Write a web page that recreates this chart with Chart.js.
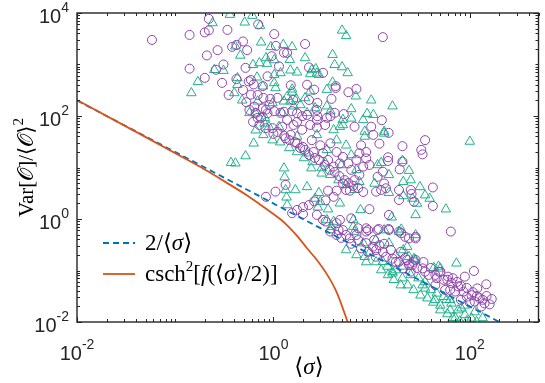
<!DOCTYPE html>
<html>
<head>
<meta charset="utf-8">
<script src="https://cdn.jsdelivr.net/npm/chart.js@4.4.0/dist/chart.umd.min.js"></script>
<style>
  html, body { margin: 0; padding: 0; background: #fff; }
  canvas { display: block; }
</style>
</head>
<body>
<canvas id="chart" width="545" height="383"></canvas>
<script>
'use strict';

// --- values (x = <sigma>, y = Var[O]/<O>^2) ---
const circlePts = [
  [0.058,3000],[0.14,3750],[0.22,7700],[0.20,4200],[0.22,4600],[0.34,4700],[0.21,1500],[0.27,1900],
  [0.14,830],[0.20,550],[0.31,1000],[0.30,440],[0.26,790],[0.38,2200],[0.49,2800],[0.54,1900],
  [0.70,6000],[1.02,3900],[1.06,2300],[1.28,1700],[0.96,1450],[0.52,860],[1.14,920],[0.42,520],
  [0.56,470],[0.63,410],[0.87,590],[0.78,380],[0.59,260],[0.53,185],[0.79,225],[0.93,215],
  [1.10,225],[0.66,115],[0.84,133],[1.02,124],[1.18,115],[0.75,92],[13,3400],[2.1,2500],
  [2.3,880],[3.2,690],[1.5,395],[2.2,405],[2.6,325],[4.3,380],[4.3,350],[5.8,290],
  [7.0,335],[3.9,215],[2.8,180],[1.55,124],[1.96,99],[2.8,99],[4.2,115],[5.2,109],
  [3.8,99],[12.7,83],[1.38,1680],[0.42,2400],[0.59,500],[0.69,256],[0.64,152],[0.78,141],
  [0.87,113],[1.28,121],[1.74,113],[2.2,105],[2.77,131],[6.7,62],[9.9,62],[14.9,47],
  [35,34],[1.0,45],[1.33,37],[1.23,62],[1.6,67],[1.96,54],[2.37,67],[2.77,60],
  [3.36,67],[2.46,34],[3.0,27],[3.8,29.5],[4.4,20],[5.1,16],[5.8,12],[6.2,9],
  [4.75,12],[3.6,14],[4.1,10.4],[5.1,4.9],[6.0,3.55],[4.4,3.55],[3.6,3.55],[4.1,2.7],
  [3.4,2.3],[2.6,2.2],[2.3,1.87],[2.0,1.7],[1.74,1.5],[1.55,1.3],[2.0,1.25],[1.05,3.4],
  [0.84,2.7],[4.75,0.96],[6.2,1.03],[3.2,0.96],[1.33,4.6],[2.77,1.2],[5.5,3.66],[9.5,1.55],
  [15,1.2],[3.4,0.89],[4.4,0.83],[5.1,0.61],[5.5,0.49],[7.0,0.49],[8.8,0.57],[11.5,0.61],
  [15,0.61],[19,0.57],[22,0.45],[28,0.45],[4.6,0.61],[7.3,0.66],[9.2,0.61],[20,0.53],
  [24,0.42],[6.0,0.42],[7.3,0.39],[8.8,0.34],[10.3,0.29],[11.1,0.25],[12,0.31],[13,0.23],
  [11,0.185],[14,0.185],[16.3,0.17],[19,0.148],[23,0.16],[26,0.128],[21,0.11],[25,0.095],
  [4.4,0.49],[3.8,0.57],[64,0.57],[28,0.16],[24,0.128],[33,0.11],[48,0.095],[60,0.076],
  [89,0.076],[110,0.098],[147,0.054],[119,0.045],[167,0.028],[141,0.023],[126,0.029],[104,0.033],
  [86,0.039],[76,0.049],[65,0.057],[54,0.066],[46,0.071],[38,0.082],[35,0.095],[56,0.042],
  [71,0.039],[93,0.031],[112,0.025],[131,0.020],[28,0.42],[10.4,43],[12,29],[20.6,26],
  [32,22],[33,18],[14.7,15.8],[14.7,13.4],[20.6,13],[19.3,9.2],[8.8,20],[8.8,15],
  [9.5,11.2],[13,8.3],[11.5,6.6],[13.4,4.9],[14,3.95],[12.5,3.66],[11.1,3.4],[19,3.66],
  [25,3.66],[25.5,3.06],[42,4.1],[19,2.34],[27,2.17],[42,1.79],[8.8,0.66],[11.8,0.64],
  [14.9,0.64],[7.8,27],[7.5,19],[8.2,10.4],[1.5,43],[1.74,29.5],[2.0,25],[2.56,20],
  [3.2,19],[7.0,14],[6.7,5.7],[7.5,7.2],
  // dense streak of the upper band
  [0.62,77],[0.72,67],[0.83,58],[0.98,58],[1.1,49],[1.29,41],[1.45,34],[1.66,31],
  [1.87,24],[2.1,22],[2.3,17.5],[2.64,15.3],[2.9,14],[3.33,11.2],[3.74,9],[4.2,8.2],
  [4.7,6.8],[5.3,5.7],[5.8,5.0],[6.5,4.4],[7.3,4.0],[8.2,3.35],
  [0.35,256],[0.49,320],[0.57,131],[0.69,92],[0.91,164],[1.38,84],[1.74,77],[1.59,205],
  [2.77,84],[3.5,92],[2.3,205],
  // dense lower band
  [4.9,0.43],[6.2,0.33],[7.8,0.27],[9.2,0.23],[10.6,0.39],[13.4,0.33],[15.7,0.25],[17.6,0.146],
  [19.8,0.23],[22,0.175],[26.7,0.146],[29,0.112],[33.7,0.146],[40,0.112],[44.5,0.082],[50,0.094],
  [59,0.066],[67,0.071],[74,0.06],[81,0.05],[93,0.046],[107,0.038],[118,0.032],[135,0.027],
  [148,0.032],[159,0.022],[44.5,0.052],[63,0.042],[81,0.027],[100,0.024]
];

const trianglePts = [
  [0.36,9300],[0.24,6400],[0.51,6600],[0.61,8900],[0.73,5700],[0.75,2700],[0.94,2200],[1.26,2430],
  [0.46,1500],[0.41,2260],[0.62,990],[0.72,1070],[0.86,1040],[0.84,1340],[0.25,790],[0.31,760],
  [0.17,460],[0.146,280],[0.43,550],[0.68,565],[1.02,635],[1.18,685],[0.78,378],[1.02,438],
  [1.05,350],[0.43,406],[0.40,280],[0.48,202],[0.69,193],[0.98,179],[1.28,193],[0.57,115],
  [0.82,92],[1.23,115],[5.0,4600],[5.5,3600],[1.55,2200],[2.1,1340],[4.0,1550],[4.2,990],
  [5.0,895],[5.7,685],[1.47,1240],[1.49,773],[1.74,706],[2.37,655],[2.7,820],[2.9,635],
  [4.0,452],[3.5,325],[2.37,302],[1.55,289],[2.1,224],[1.71,214],[1.49,193],[6.9,242],
  [9.9,202],[16.3,155],[6.2,137],[3.5,155],[2.66,143],[3.8,124],[9.0,111],[10.4,106],
  [5.1,85],[1.61,155],[2.2,115],[1.02,1225],[2.46,783],[2.77,676],[1.55,330],[1.38,237],
  [0.66,113],[0.81,72],[1.14,62],[6.2,90],[8.2,84],[4.75,62],[13.4,50],[1.88,164],
  [0.63,29.5],[0.52,16.7],[0.37,12.4],[0.41,12.1],[1.28,9.7],[1.3,6.5],[1.67,3.66],[2.2,4.2],
  [1.36,2.64],[1.38,1.87],[1.33,3.66],[2.43,9.7],[3.1,7.7],[2.9,3.24],[2.66,2.5],[3.0,2.17],
  [2.83,1.69],[3.6,1.55],[4.75,2.02],[0.9,62],[1.74,40],[2.2,19],[3.4,12.1],[4.1,53.5],
  [5.1,67],[3.5,0.96],[4.1,0.89],[8.5,50],[8.5,40],[13.4,46],[100,32],[20.6,13.6],
  [12.5,12.4],[11.5,11.2],[24,8.7],[25,5.7],[21,5.3],[15,7.2],[10.7,4.9],[7.5,5.3],
  [31,4.2],[15,3.24],[21,2.8],[26,2.5],[35,2.9],[39,2.5],[29,2.0],[7.7,1.5],
  [16,1.08],[28,1.2],[57,1.55],[20,0.63],[3.8,0.61],[6.5,0.96],[13.4,0.61],[28,0.16],
  [20.6,0.12],[16.3,0.088],[73,0.138],[48,0.12],[3.9,0.71],[6.7,0.57],[8.5,0.185],[8.2,0.34],
  [9.5,0.22],[13,0.148],[14.5,0.12],[16.3,0.095],[20.6,0.071],[19,0.57],[21,0.25],[17.6,0.2],
  [24,0.185],[15,0.34],[11,0.39],[6.5,0.71],[28,0.49],[23,0.29],[27,0.17],[43,0.113],
  [50,0.11],[30,0.071],[35,0.045],[46,0.036],[54,0.031],[65,0.023],[76,0.017],[89,0.0137],
  [117,0.0101],[104,0.0118],[82,0.0185],[58,0.027],[40,0.042],[33,0.052],[44,0.027],[63,0.017],
  [71,0.012],[93,0.0105],[50,0.021],[4.4,34],[5.5,27],[6.2,17.5],[4.9,11.2],[7.0,9],
  [2.77,43],[3.5,22],
  // dense streak of the upper band
  [0.66,53],[0.79,43],[0.98,34],[1.17,31],[1.45,24],[1.74,20],[2.05,15.3],[2.5,12.8],
  [3.1,9.8],[3.8,7.2],[4.6,5.7],[5.5,4.6],[6.7,3.7],
  // dense lower band
  [5.5,0.25],[7.0,0.2],[8.8,0.146],[11.1,0.146],[12.5,0.102],[14.7,0.082],[16.8,0.066],[19.8,0.052],
  [23.3,0.052],[26.7,0.042],[31.4,0.033],[37,0.029],[42.5,0.024],[50,0.017],[59,0.0143],[67,0.012],
  [79,0.0104],[89,0.021],[63,0.027],[112,0.0156],[135,0.012],[35,0.06],[25,0.082],[17.6,0.102]
];

const csch2Curve = [
  [0.01,205],[0.17,10.9],[0.37,4.5],[0.55,2.8],[0.81,1.67],[1.17,1.0],[1.38,0.75],
  [1.74,0.47],[2.2,0.27],[2.77,0.16],[3.5,0.085],[4.4,0.038],[5.7,0.01]
];
const invSigmaLine = [[0.01,200],[200,0.01]];

const xRange = [0.01, 500];
const yRange = [0.01, 10000];
const xTickVals = [0.01, 1, 100];
const xTickExps = ['-2', '0', '2'];
const yTickVals = [0.01, 1, 100, 10000];
const yTickExps = ['-2', '0', '2', '4'];

// --- fonts / colours ---
const SANS = '"Liberation Sans", Arial, sans-serif';
const SERIF = '"Liberation Serif", "DejaVu Serif", serif';
const AXIS = '#262626';
const BLUE = '#0072BD';
const ORANGE = '#D95319';
const PURPLE = '#8E44AD';
const GREEN = '#20B28C';

const rom = s => `${s}px ${SERIF}`;
const ita = s => `italic ${s}px ${SERIF}`;

const legendItems = [
  { color: BLUE, dash: [6, 4], runs: [
    { t: '2/⟨', f: rom(23) }, { t: 'σ', f: ita(23) }, { t: '⟩', f: rom(23) }] },
  { color: ORANGE, dash: [], runs: [
    { t: 'csch', f: rom(23) }, { t: '2', f: rom(15), dy: -10 }, { t: '[', f: rom(23) },
    { t: 'f', f: ita(23) }, { t: '(⟨', f: rom(23) }, { t: 'σ', f: ita(23) },
    { t: '⟩/2)]', f: rom(23) }] }
];
const yTitleRuns = [
  { t: 'Var[', f: rom(21) }, { t: '𝒪', f: rom(21) }, { t: ']/⟨', f: rom(21) },
  { t: '𝒪', f: rom(21) }, { t: '⟩', f: rom(21) }, { t: '2', f: rom(15), dy: -10 }];
const xTitleRuns = [{ t: '⟨', f: rom(23) }, { t: 'σ', f: ita(23) }, { t: '⟩', f: rom(23) }];

function drawRuns(ctx, runs, x, y, align) {
  let w = 0;
  runs.forEach(r => { ctx.font = r.f; r.w = ctx.measureText(r.t).width; w += r.w; });
  let cx = align === 'center' ? x - w / 2 : align === 'right' ? x - w : x;
  ctx.textAlign = 'left';
  ctx.textBaseline = 'alphabetic';
  runs.forEach(r => { ctx.font = r.f; ctx.fillText(r.t, cx, y + (r.dy || 0)); cx += r.w; });
}

function logTickValues(min, max) {
  const out = [];
  for (let e = Math.floor(Math.log10(min)); e <= Math.ceil(Math.log10(max)); e++) {
    for (let m = 1; m <= 9; m++) {
      const v = m * Math.pow(10, e);
      if (v >= min * 0.999 && v <= max * 1.001) out.push(v);
    }
  }
  return out;
}

// MATLAB-style box, inward ticks, labels, legend and titles
const matlabAxes = {
  id: 'matlabAxes',
  afterDraw(chart) {
    const { ctx, chartArea: a, scales: { x, y } } = chart;
    ctx.save();
    ctx.strokeStyle = AXIS;
    ctx.lineWidth = 1;

    ctx.beginPath();
    logTickValues(xRange[0], xRange[1]).forEach(v => {
      const px = Math.round(x.getPixelForValue(v)) + 0.5;
      const len = xTickVals.includes(v) ? 5 : 3;
      ctx.moveTo(px, a.bottom); ctx.lineTo(px, a.bottom - len);
      ctx.moveTo(px, a.top); ctx.lineTo(px, a.top + len);
    });
    logTickValues(yRange[0], yRange[1]).forEach(v => {
      const py = Math.round(y.getPixelForValue(v)) + 0.5;
      const len = yTickVals.includes(v) ? 5 : 3;
      ctx.moveTo(a.left, py); ctx.lineTo(a.left + len, py);
      ctx.moveTo(a.right, py); ctx.lineTo(a.right - len, py);
    });
    ctx.stroke();

    ctx.lineWidth = 1.4;
    ctx.strokeRect(a.left, a.top, a.right - a.left, a.bottom - a.top);

    ctx.fillStyle = AXIS;
    xTickVals.forEach((v, i) => {
      drawRuns(ctx, [{ t: '10', f: `20px ${SANS}` }, { t: xTickExps[i], f: `14px ${SANS}`, dy: -11 }],
        x.getPixelForValue(v), a.bottom + 38, 'center');
    });
    yTickVals.forEach((v, i) => {
      drawRuns(ctx, [{ t: '10', f: `20px ${SANS}` }, { t: yTickExps[i], f: `14px ${SANS}`, dy: -11 }],
        a.left - 8, y.getPixelForValue(v) + 10, 'right');
    });

    // legend (no box)
    ctx.fillStyle = '#000';
    legendItems.forEach((item, i) => {
      const ly = a.top + 230 + i * 31;
      ctx.beginPath();
      ctx.strokeStyle = item.color;
      ctx.lineWidth = 1.8;
      ctx.setLineDash(item.dash);
      ctx.moveTo(a.left + 26, ly); ctx.lineTo(a.left + 58, ly);
      ctx.stroke();
      ctx.setLineDash([]);
      drawRuns(ctx, item.runs, a.left + 68, ly + 7, 'left');
    });

    // axis titles
    drawRuns(ctx, xTitleRuns, 309, 374, 'center');
    ctx.translate(33, (a.top + a.bottom) / 2);
    ctx.rotate(-Math.PI / 2);
    drawRuns(ctx, yTitleRuns, 0, 0, 'center');
    ctx.restore();
  }
};

const pts = arr => arr.map(([px, py]) => ({ x: px, y: py }));

new Chart(document.getElementById('chart'), {
  type: 'scatter',
  data: {
    datasets: [
      { label: 'csch2', data: pts(csch2Curve), showLine: true, borderColor: ORANGE,
        borderWidth: 1.8, pointRadius: 0, tension: 0.3, order: 0 },
      { label: '2/sigma', data: pts(invSigmaLine), showLine: true, borderColor: BLUE,
        borderWidth: 1.8, borderDash: [6, 4], pointRadius: 0, order: 1 },
      { label: 'circles', data: pts(circlePts), pointStyle: 'circle', pointRadius: 4.5,
        backgroundColor: 'rgba(0,0,0,0)', borderColor: PURPLE, pointBorderWidth: 1, order: 2 },
      { label: 'triangles', data: pts(trianglePts), pointStyle: 'triangle', pointRadius: 5.5,
        backgroundColor: 'rgba(0,0,0,0)', borderColor: GREEN, pointBorderWidth: 1, order: 3 }
    ]
  },
  options: {
    responsive: false,
    animation: false,
    devicePixelRatio: 1,
    layout: { padding: { left: 77, top: 13, right: 2, bottom: 61 } },
    scales: {
      x: { type: 'logarithmic', min: xRange[0], max: xRange[1], bounds: 'data', display: false },
      y: { type: 'logarithmic', min: yRange[0], max: yRange[1], bounds: 'data', display: false }
    },
    plugins: { legend: { display: false }, tooltip: { enabled: false } }
  },
  plugins: [matlabAxes]
});
</script>
</body>
</html>
